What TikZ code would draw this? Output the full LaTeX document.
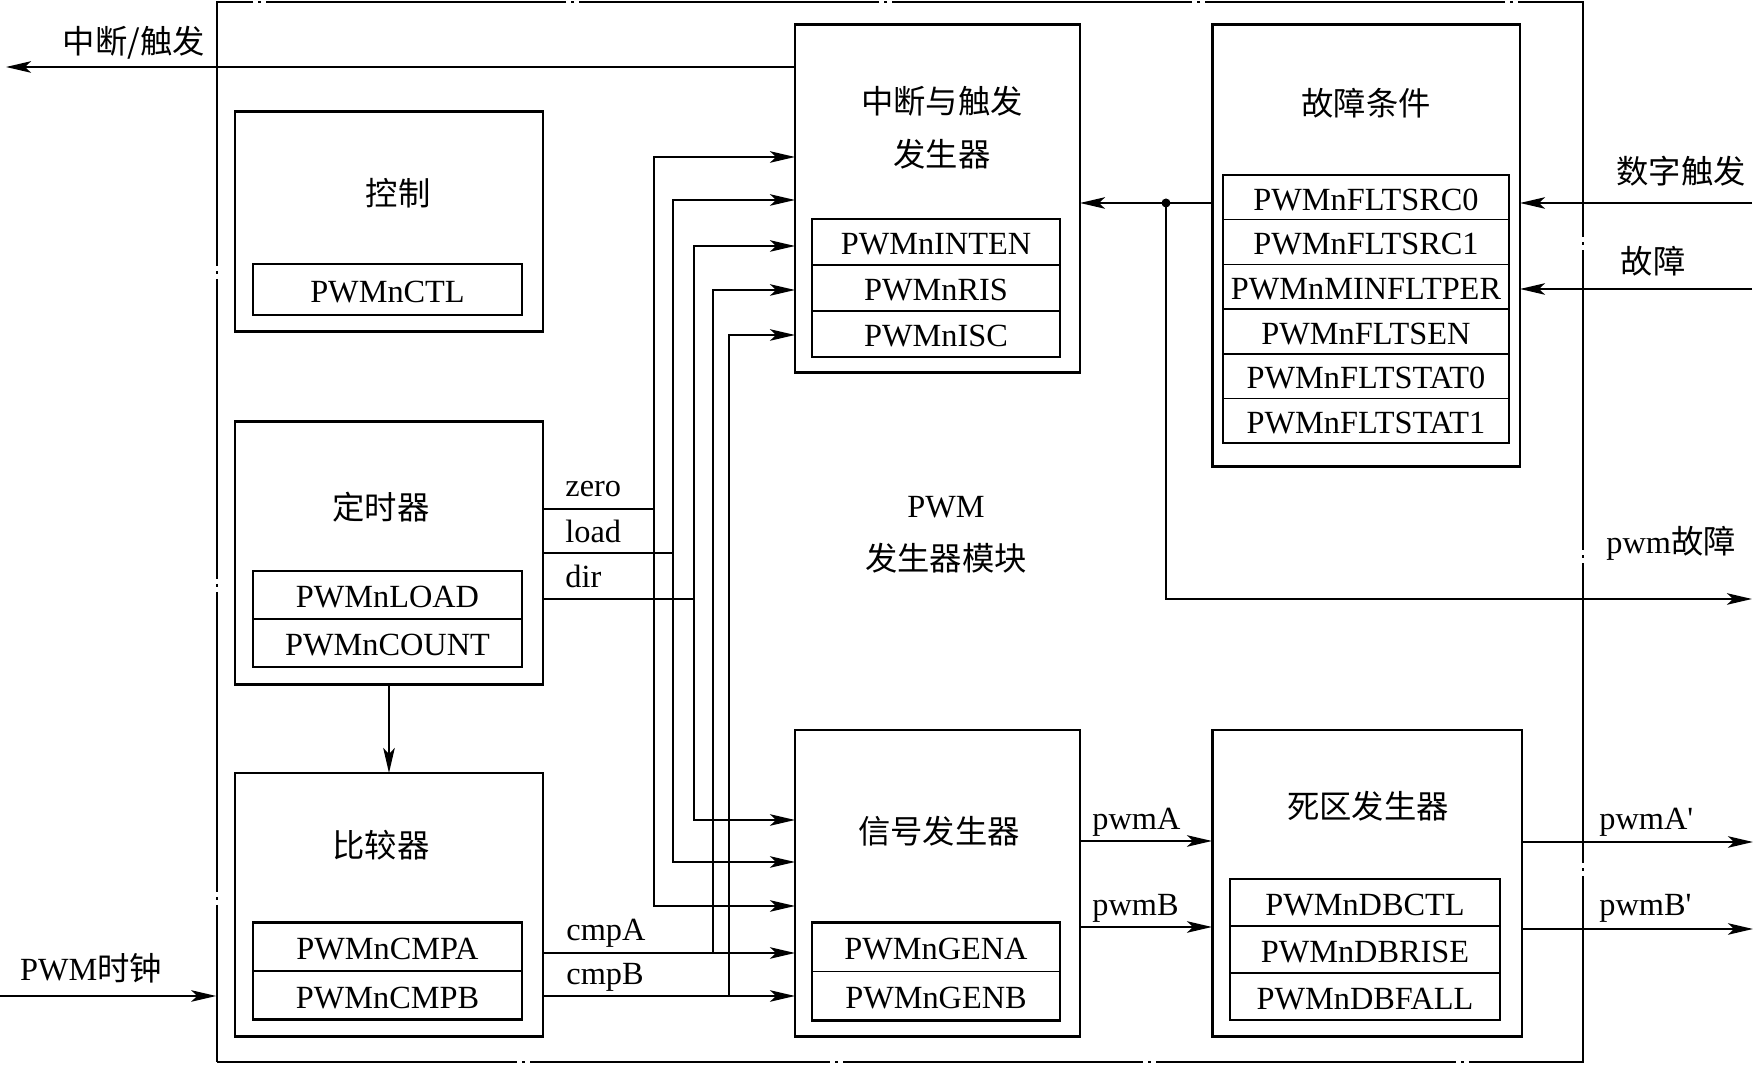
\documentclass[tikz,border=0pt]{standalone}
\usepackage{fontspec}
\setmainfont{Liberation Serif}
\newfontfamily\cjk{Noto Sans CJK SC}
\usetikzlibrary{arrows.meta, positioning}

\tikzset{
    blk/.style={draw, line width=0.85pt, inner sep=0pt, outer sep=0pt},
    reg/.style={draw, line width=0.45pt, inner sep=0pt, outer sep=0pt, text height=2.55mm, text depth=0mm},
    regbox/.style={line width=0.75pt},
    wire/.style={line width=0.62pt},
    arr/.style={wire, -{Stealth[length=2.5mm,width=1.15mm,inset=0.6mm]}},
}

\begin{document}
\begin{tikzpicture}[x=0.1mm, y=-0.1mm, font=\fontsize{9.2}{11}\selectfont]
        \useasboundingbox (0,0) rectangle (1755,1065);

        % module frame
        \node[draw, line width=0.45pt, dash pattern=on 30mm off 0.5mm on 0.3mm off 0.5mm,
              inner sep=0pt, minimum width=136.6mm, minimum height=106mm] (pwmgen) at (900,532) {};
        \node[align=center, font=\fontsize{9.2}{15}\selectfont] (pwmlbl) at (946,535) {PWM\\{\cjk 发生器模块}};

        % control
        \node[blk, minimum width=30.8mm, minimum height=22mm] (ctl) at (389,222) {};
        \node (ctltitle) at (398,193) {\cjk 控制};
        \node[reg, minimum width=26.9mm, minimum height=5.1mm] (ctlreg) at (387.5,289.5) {PWMnCTL};
        \draw[regbox] (ctlreg.north west) rectangle (ctlreg.south east);

        % timer
        \node[blk, minimum width=30.8mm, minimum height=26.3mm] (tmr) at (389,553.5) {};
        \node (tmrtitle) at (381,507) {\cjk 定时器};
        \node[reg, minimum width=26.9mm, minimum height=4.8mm] (tload) at (387.5,595) {PWMnLOAD};
        \node[reg, minimum width=26.9mm, minimum height=4.8mm, below=0pt of tload] (tcount) {PWMnCOUNT};
        \draw[regbox] (tload.north west) rectangle (tcount.south east);

        % comparator
        \node[blk, minimum width=30.8mm, minimum height=26.4mm] (cmp) at (389,905) {};
        \node (cmptitle) at (381,845) {\cjk 比较器};
        \node[reg, minimum width=26.9mm, minimum height=4.85mm] (cmpa) at (387.5,947) {PWMnCMPA};
        \node[reg, minimum width=26.9mm, minimum height=4.85mm, below=0pt of cmpa] (cmpb) {PWMnCMPB};
        \draw[regbox] (cmpa.north west) rectangle (cmpb.south east);

        % interrupt / trigger generator
        \node[blk, minimum width=28.5mm, minimum height=34.8mm] (itg) at (937.5,199) {};
        \node[align=center, font=\cjk\fontsize{9.2}{15}\selectfont] (itgtitle) at (942,128) {中断与触发\\发生器};
        \node[reg, minimum width=24.8mm, minimum height=4.6mm] (inten) at (936,242) {PWMnINTEN};
        \node[reg, minimum width=24.8mm, minimum height=4.6mm, below=0pt of inten] (ris) {PWMnRIS};
        \node[reg, minimum width=24.8mm, minimum height=4.6mm, below=0pt of ris] (isc) {PWMnISC};
        \draw[regbox] (inten.north west) rectangle (isc.south east);

        % fault conditions
        \node[blk, minimum width=30.8mm, minimum height=44.2mm] (flt) at (1366,246) {};
        \node (flttitle) at (1366,103) {\cjk 故障条件};
        \node[reg, minimum width=28.6mm, minimum height=4.47mm] (src0) at (1366,197.3) {PWMnFLTSRC0};
        \node[reg, minimum width=28.6mm, minimum height=4.47mm, below=0pt of src0] (src1) {PWMnFLTSRC1};
        \node[reg, minimum width=28.6mm, minimum height=4.47mm, below=0pt of src1] (minper) {PWMnMINFLTPER};
        \node[reg, minimum width=28.6mm, minimum height=4.47mm, below=0pt of minper] (fen) {PWMnFLTSEN};
        \node[reg, minimum width=28.6mm, minimum height=4.47mm, below=0pt of fen] (stat0) {PWMnFLTSTAT0};
        \node[reg, minimum width=28.6mm, minimum height=4.47mm, below=0pt of stat0] (stat1) {PWMnFLTSTAT1};
        \draw[regbox] (src0.north west) rectangle (stat1.south east);

        % signal generator
        \node[blk, minimum width=28.5mm, minimum height=30.7mm] (sgen) at (937.5,883.5) {};
        \node (sgentitle) at (939,831) {\cjk 信号发生器};
        \node[reg, minimum width=24.8mm, minimum height=4.9mm] (gena) at (936,947) {PWMnGENA};
        \node[reg, minimum width=24.8mm, minimum height=4.9mm, below=0pt of gena] (genb) {PWMnGENB};
        \draw[regbox] (gena.north west) rectangle (genb.south east);

        % dead band generator
        \node[blk, minimum width=31mm, minimum height=30.7mm] (db) at (1367,883.5) {};
        \node (dbtitle) at (1368,806) {\cjk 死区发生器};
        \node[reg, minimum width=27mm, minimum height=4.7mm] (dbctl) at (1365,902.5) {PWMnDBCTL};
        \node[reg, minimum width=27mm, minimum height=4.7mm, below=0pt of dbctl] (dbrise) {PWMnDBRISE};
        \node[reg, minimum width=27mm, minimum height=4.7mm, below=0pt of dbrise] (dbfall) {PWMnDBFALL};
        \draw[regbox] (dbctl.north west) rectangle (dbfall.south east);

        % outside signals
        \coordinate (intout) at (6,67);
        \coordinate (digin) at (1752,203);
        \coordinate (faultin) at (1752,289);
        \coordinate (fdot) at (1166,203);
        \coordinate (pwmfout) at (1752,599);
        \coordinate (clkin) at (0,996);
        \coordinate (paout) at (1753,842);
        \coordinate (pbout) at (1753,929);

        \draw[arr] (intout -| itg.west) -- (intout);
        \node (intlbl) at (134,43) {\cjk 中断/触发};
        \draw[arr] (digin) -- (digin -| flt.east);
        \node (diglbl) at (1681,171) {\cjk 数字触发};
        \draw[arr] (faultin) -- (faultin -| flt.east);
        \node (faultlbl) at (1653,261) {\cjk 故障};
        \draw[arr] (flt.west |- fdot) -- (itg.east |- fdot);
        \fill (fdot) circle (0.45mm);
        \draw[arr] (fdot) |- (pwmfout);
        \node (pwmflbl) at (1671,543) {pwm{\cjk 故障}};
        \draw[arr] (clkin) -- (clkin -| pwmgen.west);
        \node (clklbl) at (91,968) {PWM{\cjk 时钟}};

        % timer and comparator buses
        \coordinate (zbus) at (654,509);
        \coordinate (lbus) at (673,553);
        \coordinate (dbus) at (694,599);
        \coordinate (abus) at (713,953);
        \coordinate (bbus) at (729,996);
        \draw[wire] (tmr.east |- zbus) -- (zbus);
        \draw[wire] (tmr.east |- lbus) -- (lbus);
        \draw[wire] (tmr.east |- dbus) -- (dbus);
        \draw[arr] (zbus) |- ([yshift=4.2mm]itg.west);
        \draw[arr] (lbus) |- ([yshift=-0.1mm]itg.west);
        \draw[arr] (dbus) |- ([yshift=-4.7mm]itg.west);
        \draw[arr] (abus) |- ([yshift=-9.1mm]itg.west);
        \draw[arr] (bbus) |- ([yshift=-13.6mm]itg.west);
        \draw[arr] (zbus) |- ([yshift=-2.25mm]sgen.west);
        \draw[arr] (lbus) |- ([yshift=2.15mm]sgen.west);
        \draw[arr] (dbus) |- ([yshift=6.35mm]sgen.west);
        \draw[arr] (cmp.east |- abus) -- (sgen.west |- abus);
        \draw[arr] (cmp.east |- bbus) -- (sgen.west |- bbus);
        \node[anchor=base west] (zerolbl) at (553,497) {zero};
        \node[anchor=base west] (loadlbl) at (553,543) {load};
        \node[anchor=base west] (dirlbl) at (553,588) {dir};
        \node[anchor=base west] (cmpalbl) at (554,941) {cmpA};
        \node[anchor=base west] (cmpblbl) at (554,985) {cmpB};
        \draw[arr] (tmr.south) -- (cmp.north);

        % pwm outputs
        \coordinate (pa) at ([yshift=4.25mm]sgen.east);
        \coordinate (pb) at ([yshift=-4.35mm]sgen.east);
        \draw[arr] (pa) -- (pa -| db.west);
        \draw[arr] (pb) -- (pb -| db.west);
        \node[anchor=base west] (palbl) at (1080,830) {pwmA};
        \node[anchor=base west] (pblbl) at (1080,916) {pwmB};
        \draw[arr] (db.east |- paout) -- (paout);
        \draw[arr] (db.east |- pbout) -- (pbout);
        \node[anchor=base west] (paolbl) at (1587,830) {pwmA\textquotesingle};
        \node[anchor=base west] (pbolbl) at (1587,916) {pwmB\textquotesingle};
    \end{tikzpicture}
\end{document}
